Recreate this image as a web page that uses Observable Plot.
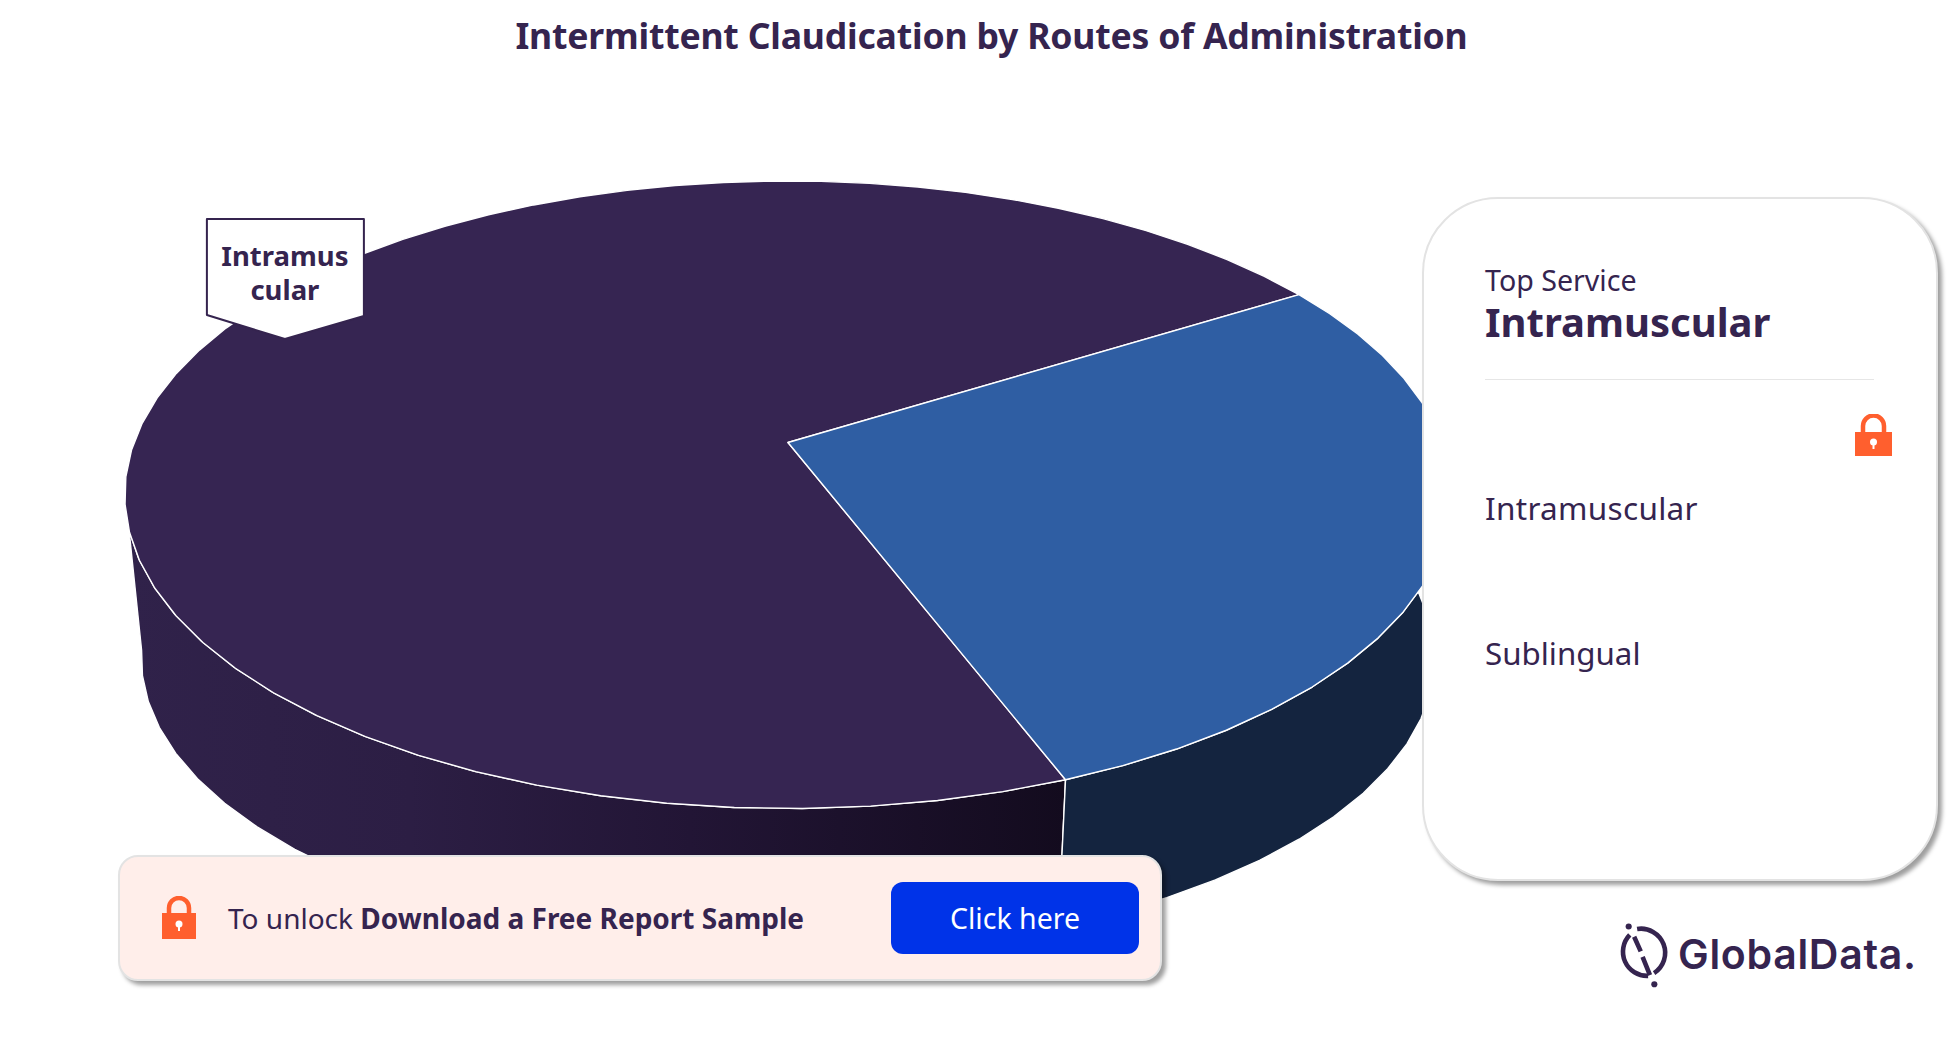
<!DOCTYPE html>
<html><head><meta charset="utf-8">
<script src="https://cdn.jsdelivr.net/npm/d3@7"></script>
<script src="https://cdn.jsdelivr.net/npm/@observablehq/plot@0.6"></script>
<style>
html,body{margin:0;padding:0;background:#fff;}
body{position:relative;width:1951px;height:1050px;overflow:hidden;font-family:"Noto Sans",sans-serif;color:#35244f;}
#chart{position:absolute;left:0;top:0;}
.t{position:absolute;white-space:nowrap;line-height:1;}
#title{left:0;width:1983px;top:18px;text-align:center;font-size:35.6px;font-weight:700;letter-spacing:-.2px;}
#panel{position:absolute;left:1422px;top:197px;width:512px;height:680px;background:#fff;border:2px solid #e3e3e3;border-radius:76px;box-shadow:4px 4px 4px rgba(0,0,0,.38);box-sizing:content-box;}
#banner{position:absolute;left:118px;top:855px;width:1040px;height:122px;background:#ffeeea;border:2px solid #e3e3e3;border-radius:20px;box-shadow:4px 4px 4px rgba(0,0,0,.38);}
#btn{position:absolute;left:891px;top:882px;width:248px;height:72px;background:#0033e8;border-radius:12px;color:#fff;font-size:28.5px;line-height:72px;text-align:center;}
hr{position:absolute;left:1485px;top:379px;width:389px;margin:0;border:0;border-top:1.5px solid #e6e6e6;}
svg.ic{position:absolute;}
</style></head><body>
<div id="chart"></div>
<div class="t" id="title">Intermittent Claudication by Routes of Administration</div>
<div id="panel"></div>
<div class="t" style="left:1485px;top:266px;font-size:28.6px;">Top Service</div>
<div class="t" style="left:1485px;top:302px;font-size:40px;font-weight:700;">Intramuscular</div>
<hr>
<svg class="ic" style="left:1855px;top:414px" width="37" height="43" viewBox="0 0 37 43"><path d="M8 20V12a10.500 10.500 0 0 1 21 0V20" fill="none" stroke="#ff5f2e" stroke-width="4.500"/><path d="M0 18H37V42H0Z" fill="#ff5f2e"/><circle cx="18.500" cy="28" r="3.500" fill="#fff"/><path d="M17.500 29h2v6h-2z" fill="#fff"/></svg>
<div class="t" style="left:1485px;top:492px;font-size:31.5px;letter-spacing:.3px;">Intramuscular</div>
<div class="t" style="left:1485px;top:638px;font-size:31.3px;">Sublingual</div>
<div id="banner"></div>
<svg class="ic" style="left:162px;top:896px" width="34" height="44" viewBox="0 0 34 44"><path d="M7 20V12a10 10 0 0 1 20 0V20" fill="none" stroke="#ff5f2e" stroke-width="4.500"/><path d="M0 17H34V43H0Z" fill="#ff5f2e"/><circle cx="17" cy="28" r="3.500" fill="#fff"/><path d="M16 29h2v6h-2z" fill="#fff"/></svg>
<div class="t" style="left:228px;top:904px;font-size:28px;">To unlock <b>Download a Free Report Sample</b></div>
<div id="btn">Click here</div>
<svg class="ic" style="left:1613px;top:921px" width="57" height="68" viewBox="0 0 52 62"><path d="M22 7.300A22 22 0 0 1 37.500 47.500" fill="none" stroke="#35244f" stroke-width="4.200"/><path d="M15.300 12.700A22 22 0 0 0 32 50" fill="none" stroke="#35244f" stroke-width="4.200"/><path d="M19.300 14.300L25.300 27.700M27 32.700L33.700 49.300" stroke="#35244f" stroke-width="4.200"/><circle cx="14.300" cy="5" r="2.800" fill="#35244f"/><circle cx="37.700" cy="57.700" r="2.800" fill="#35244f"/></svg>
<div class="t" style="left:1678px;top:934px;font-family:Inter,sans-serif;font-weight:600;font-size:41px;letter-spacing:.7px;">GlobalData.</div>
<script>
// chart data
const services = ["Intramuscular", "Sublingual"];
const shares = [72, 28];
const sliceColors = ["#362552", "#2f5ea3"];
const wallColors = ["url(#wallPurple)", "#14243f"];
const calloutLabel = "Intramus\ncular";

// view of the disc
const W = 1951, H = 1050;
const view = {cx: 787.5, cy: 442, R: 654, tilt: 231.5, k: -0.1665, start: 69,
  wallScale: 0.975, wallY: 0.941, wallDy: 192.7, wallTopEnd: 164, wallBottomEnd: 172, step: 5};
const rad = Math.PI / 180;
function top3d(r, deg) {
  const c = r * Math.cos(deg * rad), s = r * Math.sin(deg * rad), d = 1 + view.k * s;
  return [view.cx + view.R * c / d, (view.tilt * s + view.cy) / d];
}
const bottom3d = (deg) => {
  const [x, y] = top3d(1, deg);
  return [view.cx + (x - view.cx) * view.wallScale, y * view.wallY + view.wallDy];
};

const spans = [];
let a0 = view.start;
shares.forEach((v, i) => {
  const sweep = v / d3.sum(shares) * 360;
  spans.push({name: services[i], a0, a1: a0 + sweep, i});
  a0 += sweep;
});
const arc = (a, b) => { const n = Math.max(1, Math.ceil(Math.abs(b - a) / view.step)); return d3.range(n + 1).map(j => a + (b - a) * j / n); };

const tops = spans.map(s => [top3d(0, 0), ...arc(s.a0, s.a1).map(t => top3d(1, t)), top3d(0, 0)]);
const walls = spans.map((s, i) => {
  const topArc = i === 0 ? arc(s.a0, view.wallTopEnd) : arc(s.a0 - 360, s.a1 - 360);
  const bottomArc = i === 0 ? arc(s.a0, view.wallBottomEnd) : arc(s.a0 - 360, s.a1 - 360);
  const pts = [...topArc.map(q => top3d(1, q)), ...bottomArc.slice().reverse().map(bottom3d)];
  return [...pts, pts[0]];
});

// callout is anchored on the first slice
const anchor = top3d(0.893, 204);
const calloutShape = [[-78, -119], [79, -119], [79, -22], [0, 1], [-78, -23], [-78, -119]];
const callout = calloutShape.map(([dx, dy]) => [anchor[0] + dx, anchor[1] + dy]);

const gradient = () => {
  const ns = "http://www.w3.org/2000/svg";
  const defs = document.createElementNS(ns, "defs");
  const g = document.createElementNS(ns, "linearGradient");
  g.setAttribute("id", "wallPurple");
  [[0, "#30224a"], [0.3, "#2c1e44"], [0.6, "#221535"], [1, "#130b1e"]].forEach(([o, c]) => {
    const st = document.createElementNS(ns, "stop");
    st.setAttribute("offset", o); st.setAttribute("stop-color", c); g.appendChild(st);
  });
  defs.appendChild(g);
  return defs;
};

const px = {x: d => d[0], y: d => d[1]};
const chart = Plot.plot({
  width: W, height: H, margin: 0,
  style: {background: "transparent"},
  x: {domain: [0, W], range: [0, W], axis: null},
  y: {domain: [0, H], range: [0, H], axis: null},
  marks: [
    gradient,
    ...walls.map((w, i) => Plot.line(w, {...px, fill: wallColors[i], stroke: "#fff", strokeWidth: 1.4, curve: "linear"})),
    ...tops.map((t, i) => Plot.line(t, {...px, fill: sliceColors[i], stroke: "#fff", strokeWidth: 1.4, curve: "linear"})),
    Plot.line(callout, {...px, fill: "#fff", stroke: "#35244f", strokeWidth: 2, curve: "linear"}),
    Plot.text([calloutLabel], {x: anchor[0], y: anchor[1] - 66, text: d => d, fill: "#35244f", fontSize: 27.5, fontWeight: 700, fontFamily: "Noto Sans", lineHeight: 1.25, lineAnchor: "middle"})
  ]
});
document.getElementById("chart").appendChild(chart);
</script>
</body></html>
